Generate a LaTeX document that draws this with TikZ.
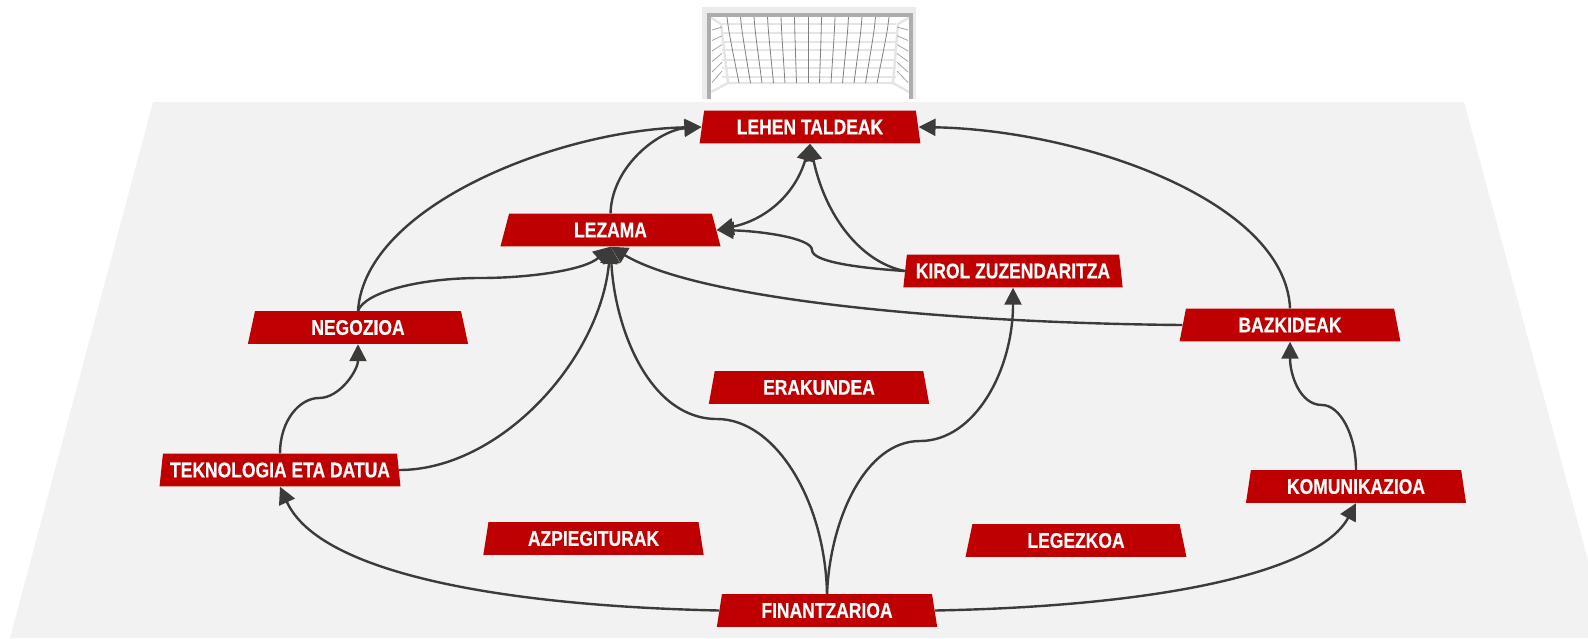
\documentclass[tikz,border=0pt]{standalone}
\usepackage{fontspec}
\setmainfont{Liberation Sans}[FakeStretch=0.825,BoldFeatures={FakeBold=0.35,FakeStretch=0.825}]
\usetikzlibrary{arrows.meta,shapes.geometric}
\definecolor{fieldgray}{HTML}{F2F2F2}
\definecolor{boxred}{HTML}{BF0000}
\definecolor{linkgray}{HTML}{3B3B39}
\tikzset{
	areabox/.style={shape=trapezium,trapezium left angle=78,trapezium right angle=78,trapezium stretches=true,
		fill=boxred,text=white,font=\bfseries\fontsize{10.6}{12}\selectfont,inner sep=0pt,
		minimum width=110.5pt,minimum height=16.3pt},
	link/.style={draw=linkgray,line width=1.2pt,-{Triangle[length=8.5pt,width=8.5pt]}},
	twolink/.style={link,{Triangle[length=8.5pt,width=8.5pt]}-{Triangle[length=8.5pt,width=8.5pt]}},
	netline/.style={draw=black!50,line width=.4pt},
	netlight/.style={draw=black!10,line width=1pt},
}
\begin{document}
\begin{tikzpicture}[x=.5pt,y=-.5pt]
	\useasboundingbox (0,0) rectangle (1588,638);
	% Field
	\fill[fieldgray] (153,102) -- (1464,102) -- (1588,560) -- (1588,638) -- (10,638) -- cycle;
	% Goal: frame
	\draw[black!8,line width=3pt] (705,99) -- (705,10) -- (913,10) -- (913,99);
	\draw[netlight,line width=1.2pt] (710,17) -- (721,24) -- (728,83) -- (893,83) -- (898,24) -- (910,17);
	\draw[netlight,line width=1.2pt] (728,83) -- (711,92);
	\draw[netlight,line width=1.2pt] (893,83) -- (909,92);
	% Goal: net
	\foreach \y in {24,33,42,50,60,68,77}{
		\draw[netlight] (722,\y) -- (896,\y);
	}
	\foreach \i in {-6,...,6}{
		\draw[netline] ({808+13.5*\i},17) .. controls ({808+13.2*\i},32) .. ({808+11.5*\i},83);
	}
	\foreach \d in {0,1,2,3,4,5}{
		\draw[netline,black!35] (712,{30+10.5*\d}) -- (722,{27+8.8*\d});
		\draw[netline,black!35] (908,{30+10.5*\d}) -- (897,{27+8.8*\d});
	}
	\draw[black!32,line width=2pt] (709,99) -- (709,15) -- (911,15) -- (911,99);
	% Areas
	\node[areabox] (lehen) at (810,127) {\raisebox{-.4pt}{LEHEN TALDEAK}};
	\node[areabox] (lezama) at (610.5,230) {\raisebox{-.4pt}{LEZAMA}};
	\node[areabox] (kirol) at (1013,271) {\raisebox{-.4pt}{KIROL ZUZENDARITZA}};
	\node[areabox] (negozioa) at (358,327.5) {\raisebox{-.4pt}{NEGOZIOA}};
	\node[areabox] (bazkideak) at (1290,325) {\raisebox{-.4pt}{BAZKIDEAK}};
	\node[areabox] (erakundea) at (819,387.5) {\raisebox{-.4pt}{ERAKUNDEA}};
	\node[areabox,minimum width=120.5pt] (teknologia) at (280,470) {\raisebox{-.4pt}{TEKNOLOGIA ETA DATUA}};
	\node[areabox] (komunikazioa) at (1356,486.5) {\raisebox{-.4pt}{KOMUNIKAZIOA}};
	\node[areabox] (azpiegiturak) at (593.5,538.5) {\raisebox{-.4pt}{AZPIEGITURAK}};
	\node[areabox] (legezkoa) at (1076,540.5) {\raisebox{-.4pt}{LEGEZKOA}};
	\node[areabox] (finantzarioa) at (827,610.5) {\raisebox{-.4pt}{FINANTZARIOA}};
	% Links up to the first team
	\draw[link] (negozioa.north) .. controls (365,205) and (560,130) .. (lehen.west);
	\draw[link] (lezama.north) .. controls (612,165) and (660,130) .. (lehen.west);
	\draw[link] (bazkideak.north) .. controls (1285,200) and (1080,130) .. (lehen.east);
	\draw[link] (kirol.west) .. controls (860,262) and (825,215) .. (lehen.south);
	\draw[twolink] (lehen.south) .. controls (795,195) and (765,220) .. (lezama.east);
	% Links into the middle
	\draw[link] (kirol.west) .. controls (860,268) and (812,262) .. (812,250) .. controls (812,238) and (760,231) .. (lezama.east);
	\draw[link] (negozioa.north) .. controls (365,292) and (420,278) .. (480,278) .. controls (530,278) and (585,270) .. (lezama.south);
	\draw[link] (bazkideak.west) .. controls (950,323) and (700,300) .. (lezama.south);
	\draw[link] (teknologia.east) .. controls (500,470) and (600,360) .. (lezama.south);
	\draw[link] (finantzarioa.north) .. controls (825,500) and (775,419) .. (717,419) .. controls (650,419) and (615,330) .. (lezama.south);
	% Links from the bottom
	\draw[link] (finantzarioa.north) .. controls (830,520) and (865,441) .. (920,441) .. controls (975,441) and (1013,370) .. (kirol.south);
	\draw[link] (finantzarioa.west) .. controls (510,606) and (320,575) .. (teknologia.south);
	\draw[link] (finantzarioa.east) .. controls (1170,606) and (1320,570) .. (komunikazioa.south);
	% Side steps
	\draw[link] (teknologia.north) .. controls (280,420) and (300,398) .. (319,398) .. controls (340,398) and (358,370) .. (negozioa.south);
	\draw[link] (komunikazioa.north) .. controls (1356,435) and (1340,405) .. (1322,405) .. controls (1300,405) and (1290,375) .. (bazkideak.south);
\end{tikzpicture}
\end{document}
